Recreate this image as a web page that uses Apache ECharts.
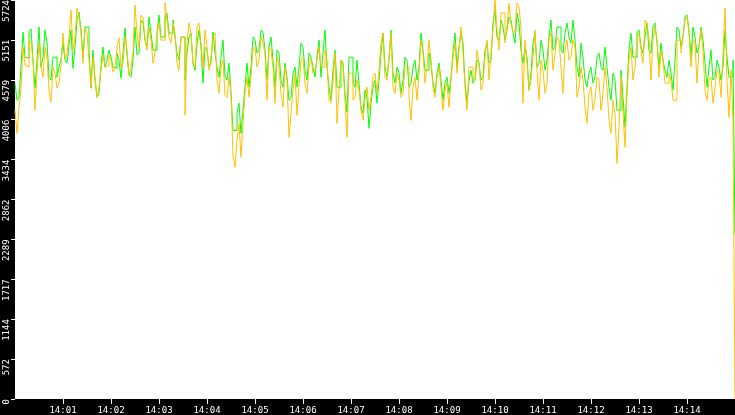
<!DOCTYPE html>
<html>
<head>
<meta charset="utf-8">
<script src="https://cdn.jsdelivr.net/npm/echarts@6/dist/echarts.min.js"></script>
<style>
html,body{margin:0;padding:0;background:#000;}
#chart{width:735px;height:415px;}
</style>
</head>
<body>
<div id="chart"></div>
<script>
// time step between samples, seconds (samples start at 14:00:00)
const sampleStep = 2.5;

const greenValues = [
4531,4286,4329,4761,5264,4904,4890,5249,5307,4861,4459,4861,5336,4761,4904,5293,5120,4617,4574,4904,
4904,4617,4761,4861,5106,4861,4818,5077,5293,4746,5048,5436,5551,5293,4904,5336,5336,5005,4459,5005,
4574,4329,4387,4789,5048,4761,4861,5005,4904,4761,4746,4962,4861,4602,4962,5321,4933,4646,4617,4861,
5336,4933,4962,5436,5393,5149,5048,5479,5249,5005,5005,5249,5508,5192,5192,5479,5537,5249,5249,5436,
5192,4962,4861,5192,5192,4574,4962,5192,5249,4818,4717,5106,5293,5048,4531,5048,5005,4761,4818,5264,
4962,4761,4617,4904,5149,4617,4574,4818,4387,3854,3854,4099,4243,3811,4142,4473,4818,4473,4761,5192,
5149,4962,5005,5293,5264,5005,4574,5048,5192,4861,4473,5005,4962,4574,4473,4818,4617,4286,4329,4674,
4761,4473,4761,5106,5048,4717,4574,4962,4904,4761,4617,4904,5149,4617,4962,5293,4761,4473,4286,4717,
5005,4473,4473,4861,4818,4387,4113,4904,4904,4531,4473,4861,4531,4185,4099,4430,4329,3883,4243,4473,
4574,4243,4574,4962,5249,4761,4617,4861,5293,4674,4531,4761,4674,4387,4574,4904,4861,4473,4531,4761,
4861,4574,4761,5249,5005,4717,4717,4962,4818,4531,4387,4674,4818,4574,4286,4531,4617,4387,4617,4962,
5249,4761,5048,5249,5106,4531,4243,4574,4717,4531,4574,4861,4818,4574,4617,5005,5106,4818,4861,5393,
5580,5192,5149,5436,5336,5149,5293,5479,5436,5249,5106,5537,5393,5005,4818,5048,4904,4430,4674,5106,
5249,4761,4818,5149,5005,4717,4861,5192,5436,5005,5048,5336,5336,5005,4962,5249,5393,5192,5106,5436,
5149,4761,4617,5106,4904,4574,4473,4674,4761,4531,4617,4904,4962,4761,4717,5048,4761,4473,4286,4674,
4574,4142,4142,4717,4329,3898,4473,5005,5249,4904,4904,5249,5293,5048,4962,5192,5393,5005,4962,5336,
5393,5106,4761,5106,4861,4717,4617,4861,4674,4430,4861,5336,5293,5048,5192,5479,5508,5293,4904,5336,
5192,4962,5048,5336,5149,4818,4473,4761,5005,4574,4617,4861,4761,4574,4761,5293,4904,4617,4617,4861,
2350
];

const orangeValues = [
4142,3811,4185,4459,5048,4789,4761,5149,5106,4861,4142,4674,5106,4761,4617,5048,4904,4430,4257,4761,
4674,4459,4531,4789,5249,4890,4962,5192,5580,5005,5192,5609,5479,5249,4818,5321,5249,4861,4473,4904,
4617,4329,4473,4717,4933,4761,4789,4933,4861,4689,4746,5048,5178,4746,4818,5192,5005,4646,4761,4976,
5652,5249,5048,5508,5479,5178,5005,5336,5149,4818,4962,5249,5393,5149,5149,5681,5436,5192,5106,5393,
5249,4818,4717,5192,5192,4070,5106,5393,5249,4818,4761,5336,5393,5106,4761,5293,5048,4717,4904,5192,
5249,4574,4387,4761,4861,4358,4329,4617,4387,3495,3323,3710,3955,3466,3955,4387,4617,4329,4617,5005,
5048,4761,4861,5192,5106,4962,4286,5048,5005,4761,4243,4904,4761,4387,4185,4761,4574,3754,4099,4430,
4674,4070,4473,4861,4904,4531,4387,4761,4890,4674,4717,4861,5048,4761,4761,5005,4861,4286,4243,4574,
4962,3955,4430,4861,4761,4286,3754,4674,4674,4286,4329,4574,4430,4142,3998,4286,4473,4142,4329,4617,
4674,4387,4717,5106,5249,4617,4574,4904,5249,4473,4387,4674,4574,4329,4387,4761,4761,4329,3998,4473,
4617,4286,4674,5149,4962,4531,4761,5149,4861,4473,4329,4617,4761,4473,4142,4430,4531,4185,4574,4904,
5106,4674,5005,5336,4962,4473,4142,4761,4761,4574,4617,5005,4818,4430,4531,4904,5149,4574,4962,5293,
5724,5293,5005,5537,5537,5106,5336,5681,5393,5249,5293,5681,5623,5336,4243,5149,4818,4430,4574,4904,
5293,4717,4286,4861,4717,4387,4531,5149,5249,4717,4962,5192,5149,4761,4387,5005,5149,4861,4904,5149,
5048,4329,4473,4761,4574,4185,3955,4387,4473,4142,4286,4617,4574,4142,4387,4761,4473,3998,3811,4286,
4099,3380,3898,4617,4099,3610,4387,4861,5048,4574,4761,5149,5249,5005,4818,5436,5393,5149,4574,5149,
5336,5149,4617,5005,4861,4531,4531,4674,4574,4286,4286,5149,5149,4962,5192,5436,5479,5249,4761,5149,
5106,4531,5048,5293,5005,4430,4286,4574,4617,4243,4473,4717,4674,4329,4962,5609,4574,4042,4717,3998,
0
];

// axis ticks
const xTickSeconds = [60,120,180,240,300,360,420,480,540,600,660,720,780,840];
const xTickLabels = ['14:01','14:02','14:03','14:04','14:05','14:06','14:07','14:08','14:09','14:10','14:11','14:12','14:13','14:14'];
const yTickValues = [0,572.4,1144.8,1717.2,2289.6,2862,3434.4,4006.8,4579.2,5151.6,5724];
const yTickLabels = ['0','572','1144','1717','2289','2862','3434','4006','4579','5151','5724'];

const toPairs = arr => arr.map((v, i) => [i * sampleStep, v]);
const nearestIdx = (list, v) => {
  let best = 0, bd = Infinity;
  list.forEach((x, i) => { const d = Math.abs(x - v); if (d < bd) { bd = d; best = i; } });
  return best;
};

const labelFont = { color: '#fff', fontFamily: 'DejaVu Sans Mono', fontSize: 9 };

const chart = echarts.init(document.getElementById('chart'), null, { renderer: 'canvas' });
chart.setOption({
  backgroundColor: '#000',
  animation: false,
  grid: {
    left: 15, right: 0, top: 0, bottom: 16,
    show: true, backgroundColor: '#fff', borderWidth: 0,
    containLabel: false, outerBoundsMode: 'none'
  },
  xAxis: {
    type: 'value', min: 0, max: 900,
    axisLine: { show: false },
    splitLine: { show: false },
    axisTick: { show: true, length: 5, lineStyle: { color: '#fff', width: 1 }, customValues: xTickSeconds },
    axisLabel: Object.assign({
      margin: 7,
      customValues: xTickSeconds,
      formatter: v => xTickLabels[nearestIdx(xTickSeconds, v)]
    }, labelFont)
  },
  yAxis: {
    type: 'value', min: 0, max: 5724,
    axisLine: { show: false },
    splitLine: { show: false },
    axisTick: { show: true, length: 4, lineStyle: { color: '#fff', width: 1 }, customValues: yTickValues },
    axisLabel: Object.assign({
      margin: 4,
      rotate: 90,
      align: 'right',
      verticalAlign: 'bottom',
      customValues: yTickValues,
      formatter: v => yTickLabels[nearestIdx(yTickValues, v)]
    }, labelFont)
  },
  series: [
    {
      type: 'line', name: 'green', data: toPairs(greenValues),
      step: 'end', showSymbol: false, symbol: 'none',
      lineStyle: { color: '#00ff00', width: 1 }, silent: true
    },
    {
      type: 'line', name: 'orange', data: toPairs(orangeValues),
      step: 'end', showSymbol: false, symbol: 'none',
      lineStyle: { color: '#ffc000', width: 1 }, silent: true
    }
  ]
});
</script>
</body>
</html>
